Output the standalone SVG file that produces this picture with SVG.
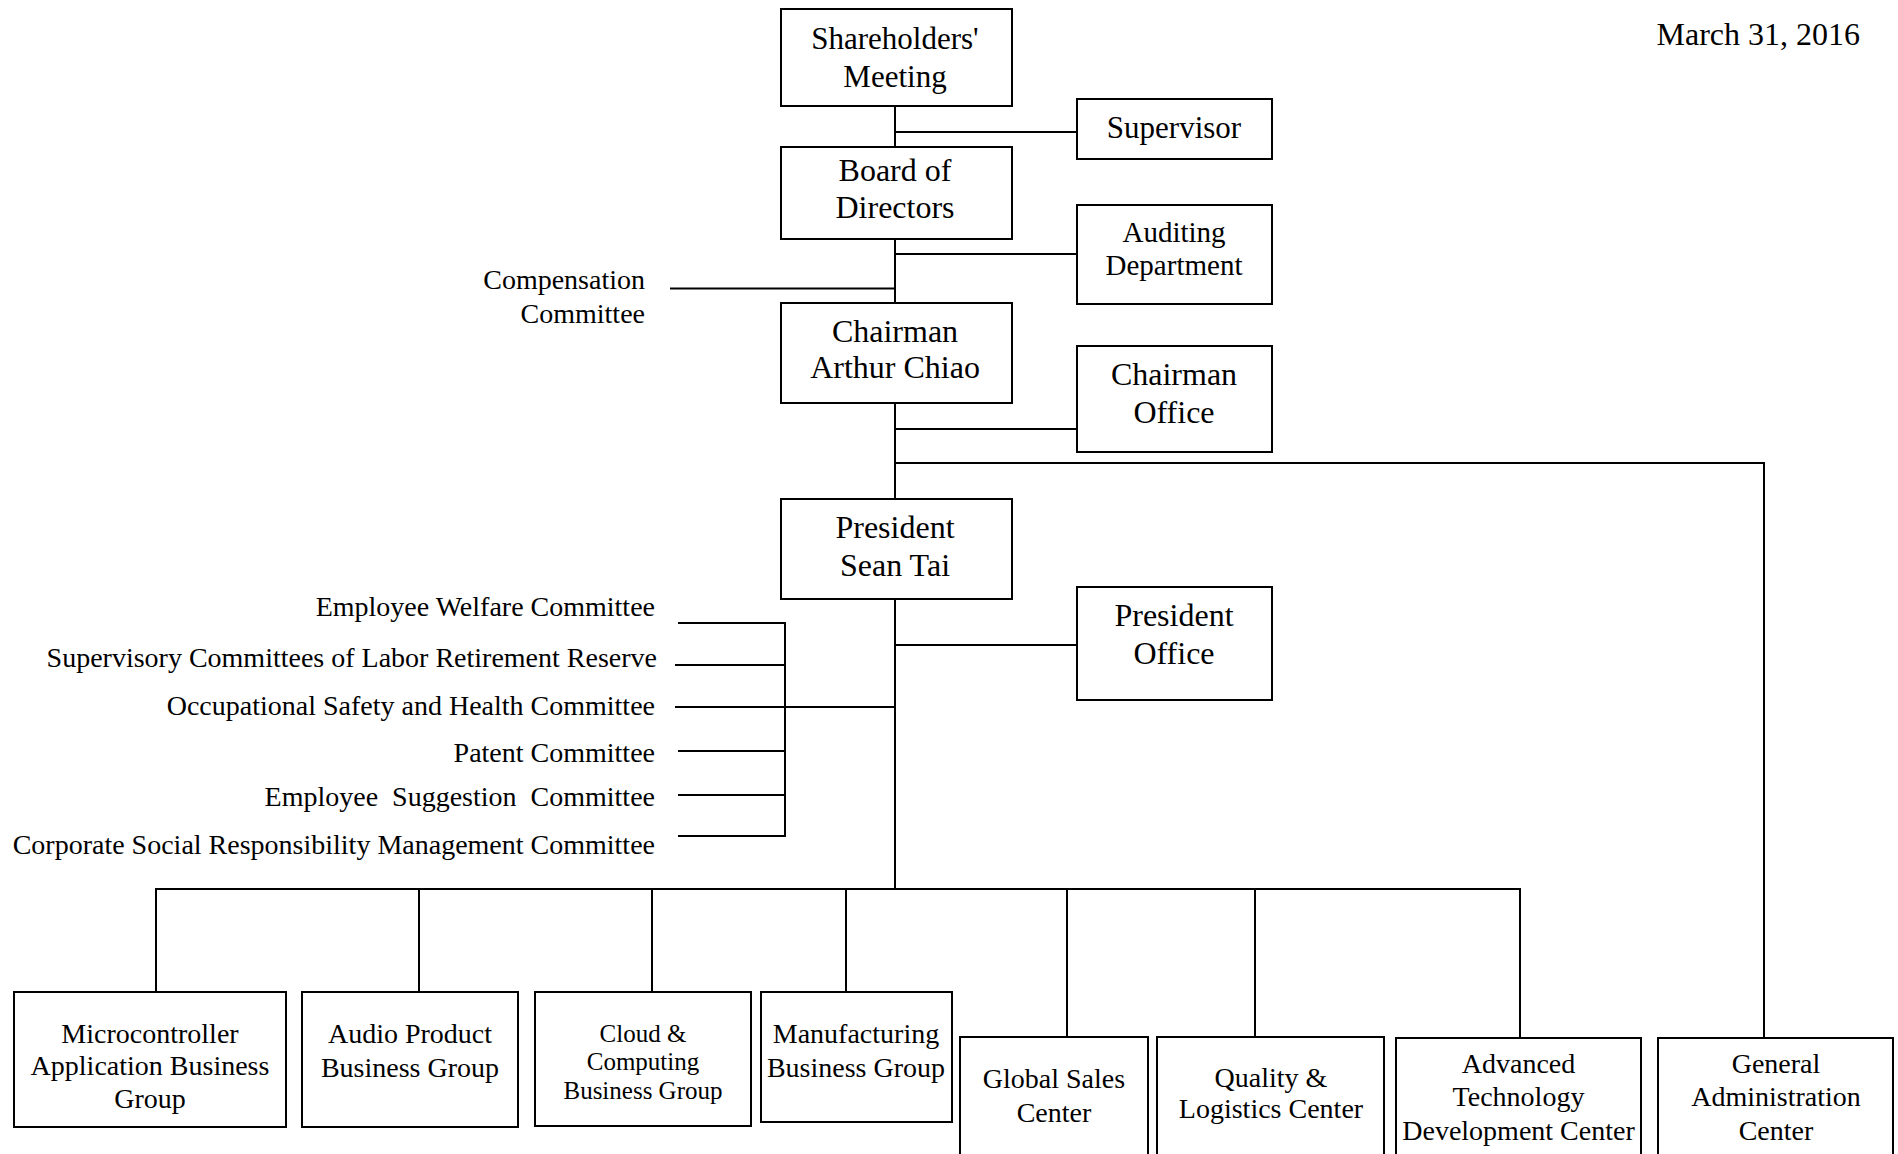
<svg xmlns="http://www.w3.org/2000/svg" width="1898" height="1154" viewBox="0 0 1898 1154">
<style>
.box{fill:#fff;stroke:#000;stroke-width:2}
.ln{fill:none;stroke:#000;stroke-width:2}
text{font-family:"Liberation Serif","Times New Roman",serif;fill:#000}
.c{text-anchor:middle}
.r{text-anchor:end}
.f32{font-size:32px}
.f31{font-size:31px}
.f29{font-size:29px}
.f28{font-size:28px}
.f25{font-size:25px}
</style>
<rect width="1898" height="1154" fill="#fff"/>
<g id="connectors">
<path class="ln" d="M895,106V147M895,239V303M895,403V499M895,599V889"/>
<path class="ln" d="M895,132H1077M895,254H1077M670,288.5H895M895,429H1077M895,645H1077"/>
<path class="ln" d="M895,463H1764V1038"/>
<path class="ln" d="M678,623H785V836H678M675,665H785M675,707H895M678,751H785M678,795H785"/>
<path class="ln" d="M156,992V889H1520V1038M419,889V992M652,889V992M846,889V992M1067,889V1037M1255,889V1037"/>
</g>
<g id="date"><text class="f32 r" x="1860" y="45">March 31, 2016</text></g>
<g id="shareholders"><rect class="box" x="781" y="9" width="231" height="97"/><text class="f31 c" x="895" y="49">Shareholders'</text><text class="f31 c" x="895" y="87">Meeting</text></g>
<g id="supervisor"><rect class="box" x="1077" y="99" width="195" height="60"/><text class="f31 c" x="1174" y="138">Supervisor</text></g>
<g id="board"><rect class="box" x="781" y="147" width="231" height="92"/><text class="f32 c" x="895" y="181">Board of</text><text class="f32 c" x="895" y="218">Directors</text></g>
<g id="auditing"><rect class="box" x="1077" y="205" width="195" height="99"/><text class="f29 c" x="1174" y="242">Auditing</text><text class="f29 c" x="1174" y="275">Department</text></g>
<g id="compensation"><text class="f28 r" x="645" y="289">Compensation</text><text class="f28 r" x="645" y="323">Committee</text></g>
<g id="chairman"><rect class="box" x="781" y="303" width="231" height="100"/><text class="f32 c" x="895" y="342">Chairman</text><text class="f32 c" x="895" y="378">Arthur Chiao</text></g>
<g id="chairman-office"><rect class="box" x="1077" y="346" width="195" height="106"/><text class="f32 c" x="1174" y="385">Chairman</text><text class="f32 c" x="1174" y="423">Office</text></g>
<g id="president"><rect class="box" x="781" y="499" width="231" height="100"/><text class="f32 c" x="895" y="538">President</text><text class="f32 c" x="895" y="576">Sean Tai</text></g>
<g id="president-office"><rect class="box" x="1077" y="587" width="195" height="113"/><text class="f32 c" x="1174" y="626">President</text><text class="f32 c" x="1174" y="664">Office</text></g>
<g id="committees">
<text class="f28 r" x="655" y="616">Employee Welfare Committee</text>
<text class="f28 r" x="657" y="667">Supervisory Committees of Labor Retirement Reserve</text>
<text class="f28 r" x="655" y="715">Occupational Safety and Health Committee</text>
<text class="f28 r" x="655" y="762">Patent Committee</text>
<text class="f28 r" x="655" y="806" xml:space="preserve" style="white-space:pre">Employee  Suggestion  Committee</text>
<text class="f28 r" x="655" y="854">Corporate Social Responsibility Management Committee</text>
</g>
<g id="microcontroller"><rect class="box" x="14" y="992" width="272" height="135"/><text class="f28 c" x="150" y="1043">Microcontroller</text><text class="f28 c" x="150" y="1075">Application Business</text><text class="f28 c" x="150" y="1108">Group</text></g>
<g id="audio"><rect class="box" x="302" y="992" width="216" height="135"/><text class="f28 c" x="410" y="1043">Audio Product</text><text class="f28 c" x="410" y="1077">Business Group</text></g>
<g id="cloud"><rect class="box" x="535" y="992" width="216" height="134"/><text class="f25 c" x="643" y="1042">Cloud &amp;</text><text class="f25 c" x="643" y="1070">Computing</text><text class="f25 c" x="643" y="1099">Business Group</text></g>
<g id="manufacturing"><rect class="box" x="761" y="992" width="191" height="130"/><text class="f28 c" x="856" y="1043">Manufacturing</text><text class="f28 c" x="856" y="1077">Business Group</text></g>
<g id="global-sales"><rect class="box" x="960" y="1037" width="188" height="140"/><text class="f28 c" x="1054" y="1088">Global Sales</text><text class="f28 c" x="1054" y="1122">Center</text></g>
<g id="quality"><rect class="box" x="1157" y="1037" width="227" height="140"/><text class="f28 c" x="1271" y="1087">Quality &amp;</text><text class="f28 c" x="1271" y="1118">Logistics Center</text></g>
<g id="advanced"><rect class="box" x="1396" y="1038" width="245" height="140"/><text class="f28 c" x="1518.5" y="1073">Advanced</text><text class="f28 c" x="1518.5" y="1106">Technology</text><text class="f28 c" x="1518.5" y="1140">Development Center</text></g>
<g id="general-admin"><rect class="box" x="1658" y="1038" width="235" height="140"/><text class="f28 c" x="1776" y="1073">General</text><text class="f28 c" x="1776" y="1106">Administration</text><text class="f28 c" x="1776" y="1140">Center</text></g>
</svg>
